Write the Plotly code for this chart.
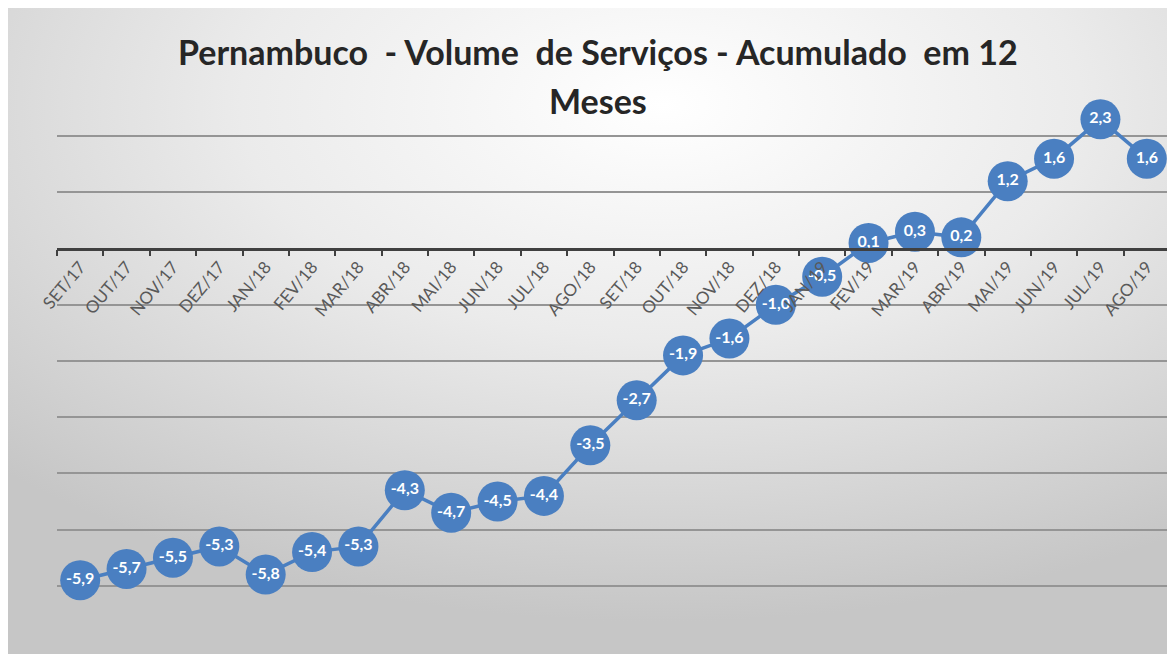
import base64
import plotly.graph_objects as go

months = ["SET/17", "OUT/17", "NOV/17", "DEZ/17", "JAN/18", "FEV/18", "MAR/18", "ABR/18",
          "MAI/18", "JUN/18", "JUL/18", "AGO/18", "SET/18", "OUT/18", "NOV/18", "DEZ/18",
          "JAN/19", "FEV/19", "MAR/19", "ABR/19", "MAI/19", "JUN/19", "JUL/19", "AGO/19"]
values = [-5.9, -5.7, -5.5, -5.3, -5.8, -5.4, -5.3, -4.3,
          -4.7, -4.5, -4.4, -3.5, -2.7, -1.9, -1.6, -1.0,
          -0.5, 0.1, 0.3, 0.2, 1.2, 1.6, 2.3, 1.6]
labels = [f"{v:.1f}".replace(".", ",") for v in values]

title_line1 = "Pernambuco  - Volume  de Serviços - Acumulado  em 12"
title_line2 = "Meses"

# page body adds an 8px margin, so the figure itself is the chart area
W, H = 1167, 646
ML, MR, MT, MB = 49, 5, 72, 12
PW, PH = W - ML - MR, H - MT - MB

BLUE = "#4a7fc1"

svg = (
    '<svg xmlns="http://www.w3.org/2000/svg" width="1167" height="646" '
    'viewBox="0 0 1167 646" preserveAspectRatio="none">'
    '<defs><radialGradient id="g" cx="0.56" cy="0.15" r="0.80" fx="0.56" fy="0.15">'
    '<stop offset="0" stop-color="#ffffff"/>'
    '<stop offset="0.45" stop-color="#ebebeb"/>'
    '<stop offset="1" stop-color="#c6c6c6"/>'
    '</radialGradient></defs>'
    '<rect x="0" y="0" width="1167" height="646" fill="url(#g)"/></svg>'
)
bg_src = "data:image/svg+xml;base64," + base64.b64encode(svg.encode()).decode()


def px_x(p):
    return (p - ML) / PW


def px_y(p):
    return (H - MB - p) / PH


fig = go.Figure()
fig.add_trace(go.Scatter(
    x=months, y=values, mode="lines+markers+text",
    text=labels, textposition="middle center",
    textfont=dict(color="white", size=16, family="Lato", weight="bold"),
    marker=dict(size=40, color=BLUE),
    line=dict(color=BLUE, width=3.5),
    cliponaxis=False, hoverinfo="skip", showlegend=False,
))

fig.update_layout(
    width=W, height=H,
    margin=dict(l=ML, r=MR, t=MT, b=MB),
    paper_bgcolor="#dedede",
    plot_bgcolor="rgba(0,0,0,0)",
    showlegend=False,
    images=[dict(
        source=bg_src, xref="paper", yref="paper",
        x=px_x(0), y=px_y(0), sizex=px_x(W) - px_x(0), sizey=px_y(0) - px_y(H),
        xanchor="left", yanchor="top", sizing="stretch", layer="below",
    )],
    annotations=[
        dict(text=title_line1, xref="paper", yref="paper", x=px_x(590), y=px_y(44),
             xanchor="center", yanchor="middle", showarrow=False,
             font=dict(family="Lato", size=34, color="#262626", weight="bold")),
        dict(text=title_line2, xref="paper", yref="paper", x=px_x(590), y=px_y(92),
             xanchor="center", yanchor="middle", showarrow=False,
             font=dict(family="Lato", size=34, color="#262626", weight="bold")),
    ],
    xaxis=dict(
        type="category", range=[-0.5, len(months) - 0.5],
        anchor="free", position=7 / 10,
        showline=True, linecolor="#404040", linewidth=2.5,
        ticks="outside", tickson="boundaries", ticklen=6, tickwidth=2, tickcolor="#404040",
        tickangle=-50, tickfont=dict(family="Lato", size=17, color="#595959"),
        showgrid=False, zeroline=False, fixedrange=True, automargin=False,
    ),
    yaxis=dict(
        range=[-7, 3], dtick=1, tick0=0,
        showgrid=True, gridcolor="#959595", gridwidth=1.6,
        zeroline=False, showticklabels=False, showline=False, ticks="",
        fixedrange=True, automargin=False,
    ),
)

fig.write_html("out.html")
